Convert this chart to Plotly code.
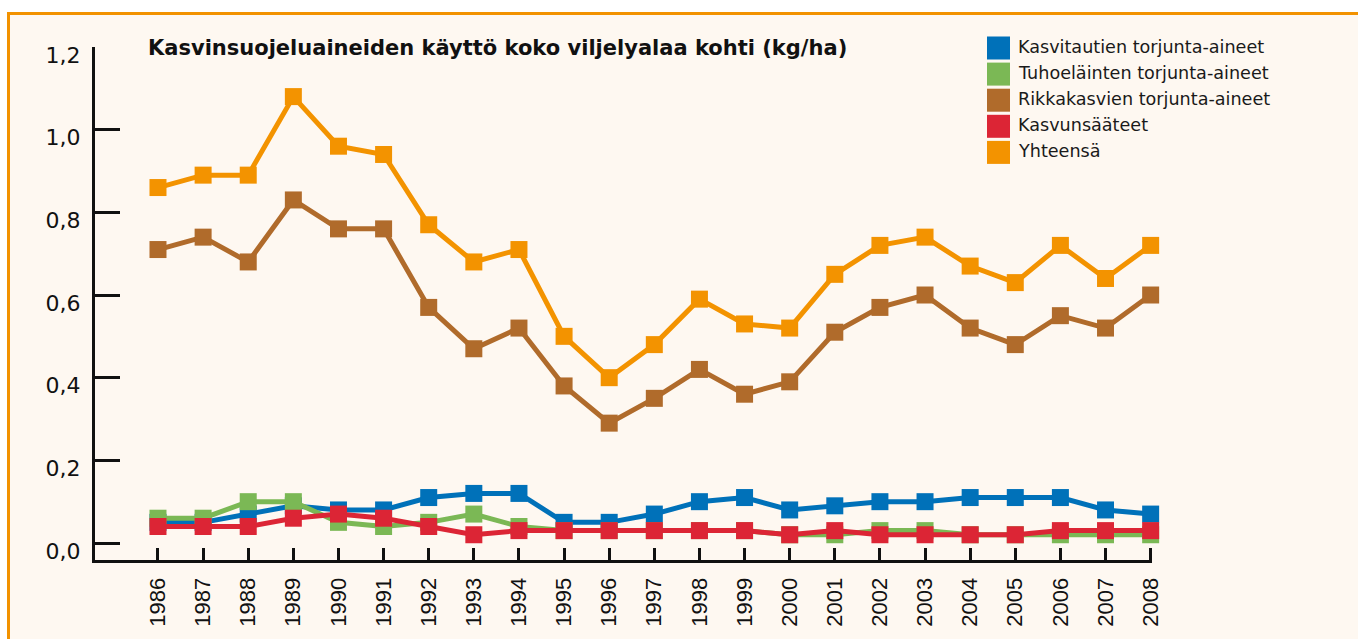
import plotly.graph_objects as go

years = list(range(1986, 2009))

kasvitautien = [0.05, 0.05, 0.07, 0.09, 0.08, 0.08, 0.11, 0.12, 0.12, 0.05, 0.05, 0.07,
                0.10, 0.11, 0.08, 0.09, 0.10, 0.10, 0.11, 0.11, 0.11, 0.08, 0.07]
tuhoelainten = [0.06, 0.06, 0.10, 0.10, 0.05, 0.04, 0.05, 0.07, 0.04, 0.03, 0.03, 0.03,
                0.03, 0.03, 0.02, 0.02, 0.03, 0.03, 0.02, 0.02, 0.02, 0.02, 0.02]
rikkakasvien = [0.71, 0.74, 0.68, 0.83, 0.76, 0.76, 0.57, 0.47, 0.52, 0.38, 0.29, 0.35,
                0.42, 0.36, 0.39, 0.51, 0.57, 0.60, 0.52, 0.48, 0.55, 0.52, 0.60]
kasvunsaateet = [0.04, 0.04, 0.04, 0.06, 0.07, 0.06, 0.04, 0.02, 0.03, 0.03, 0.03, 0.03,
                 0.03, 0.03, 0.02, 0.03, 0.02, 0.02, 0.02, 0.02, 0.03, 0.03, 0.03]
yhteensa = [0.86, 0.89, 0.89, 1.08, 0.96, 0.94, 0.77, 0.68, 0.71, 0.50, 0.40, 0.48,
            0.59, 0.53, 0.52, 0.65, 0.72, 0.74, 0.67, 0.63, 0.72, 0.64, 0.72]

series_names = ["Kasvitautien torjunta-aineet", "Tuhoeläinten torjunta-aineet",
                "Rikkakasvien torjunta-aineet", "Kasvunsääteet", "Yhteensä"]
series_values = [kasvitautien, tuhoelainten, rikkakasvien, kasvunsaateet, yhteensa]
series_colors = ["#0071B9", "#7BB855", "#B06B2B", "#DC2535", "#F39300"]

y_tickvals = [0, 0.2, 0.4, 0.6, 0.8, 1.0, 1.2]
y_ticktext = ["0,0", "0,2", "0,4", "0,6", "0,8", "1,0", "1,2"]

title_text = "Kasvinsuojeluaineiden käyttö koko viljelyalaa kohti (kg/ha)"

W, H = 1358, 639
L, R, T, B = 95, 1152, 47, 560
pw, ph = R - L, B - T


def px(x):
    return (x - L) / pw


def py(y):
    return (B - y) / ph


fig = go.Figure()
for name, vals, col in zip(series_names, series_values, series_colors):
    fig.add_trace(go.Scatter(
        x=years, y=vals, name=name, mode="lines+markers",
        line=dict(color=col, width=5),
        marker=dict(symbol="square", size=17, color=col),
        showlegend=False, cliponaxis=False,
    ))

shapes = [
    dict(type="rect", xref="paper", yref="paper",
         x0=px(8.5), x1=px(1420), y0=py(13.5), y1=py(720),
         fillcolor="#FEF8F1", line=dict(color="#F29200", width=3), layer="below"),
]
annotations = [
    dict(text="<b>" + title_text + "</b>", xref="paper", yref="paper",
         x=px(146), y=py(48), xanchor="left", yanchor="middle", showarrow=False,
         font=dict(family="DejaVu Sans", size=21, color="#111111")),
]
leg_y = [48, 74.1, 100.2, 126.3, 152.4]
for name, col, cy in zip(series_names, series_colors, leg_y):
    shapes.append(dict(type="rect", xref="paper", yref="paper",
                       x0=px(987), x1=px(1010), y0=py(cy + 11.5), y1=py(cy - 11.5),
                       fillcolor=col, line=dict(width=0)))
    annotations.append(dict(text=name, xref="paper", yref="paper",
                            x=px(1016), y=py(cy - 1), xanchor="left", yanchor="middle",
                            showarrow=False,
                            font=dict(family="DejaVu Sans", size=17.6, color="#1a1a1a")))

fig.update_layout(
    width=W, height=H,
    margin=dict(l=L, r=W - R, t=T, b=H - B, pad=0, autoexpand=False),
    paper_bgcolor="white", plot_bgcolor="rgba(0,0,0,0)",
    shapes=shapes, annotations=annotations, showlegend=False,
    xaxis=dict(
        range=[1984.604, 2008.03], tickvals=years, ticktext=[str(y) for y in years],
        tickangle=-90, ticks="inside", ticklen=12, tickwidth=3, tickcolor="#111111",
        showline=True, linewidth=3, linecolor="#111111", showgrid=False, zeroline=False,
        ticklabelstandoff=6, automargin=False,
        tickfont=dict(family="Liberation Sans", size=22, color="#111111"),
    ),
    yaxis=dict(
        range=[-0.0411, 1.2], tickvals=y_tickvals, ticktext=y_ticktext,
        ticks="inside", ticklen=25, tickwidth=3, tickcolor="#111111",
        showline=True, linewidth=3, linecolor="#111111", showgrid=False, zeroline=False,
        ticklabelstandoff=7, ticklabelshift=8, automargin=False,
        tickfont=dict(family="DejaVu Sans", size=22, color="#111111"),
    ),
)

fig.write_html("out.html", config={"displayModeBar": False},
               post_script="document.body.style.margin='0';")
